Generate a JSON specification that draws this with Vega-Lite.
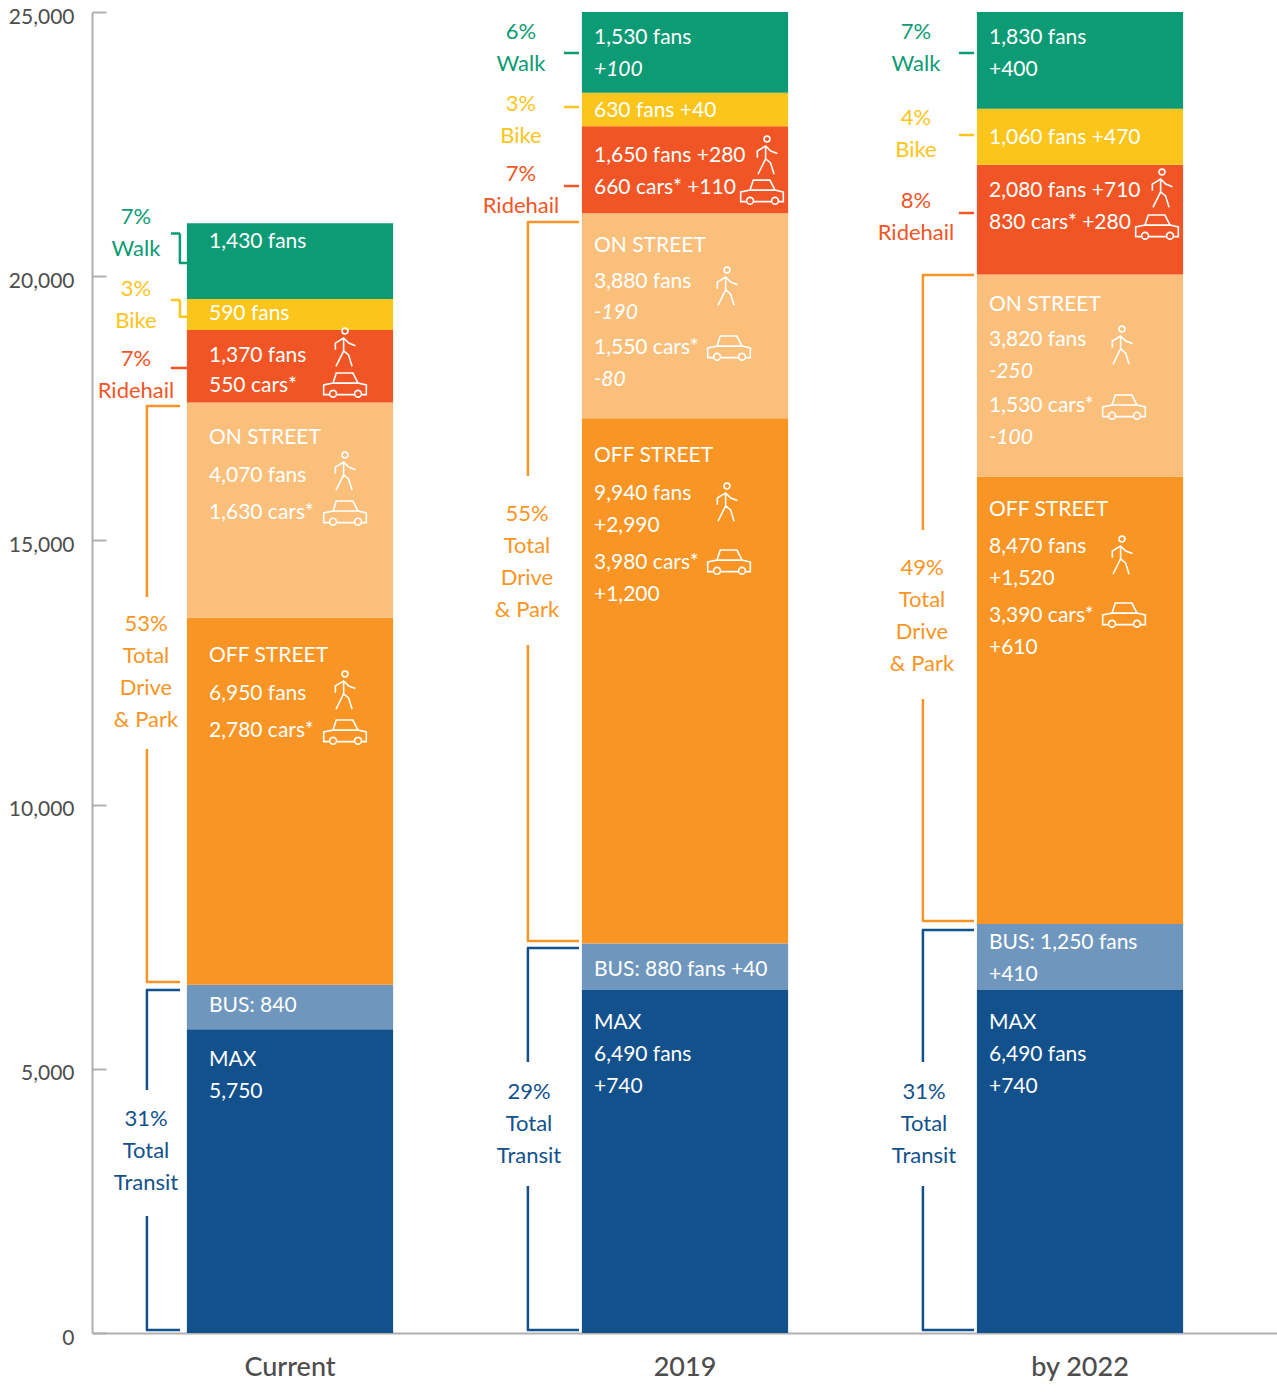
{"$schema":"https://vega.github.io/schema/vega-lite/v6.json","width":1185,"height":1321,"autosize":{"type":"none"},"padding":{"left":92,"top":12,"right":0,"bottom":62},"background":"white",
"config":{"view":{"stroke":null},"font":"Lato"},
"datasets":{
"bars":[
{"period":"Current","mode":"MAX","order":1,"fans":5750},{"period":"Current","mode":"Bus","order":2,"fans":840},{"period":"Current","mode":"Off street","order":3,"fans":6950},{"period":"Current","mode":"On street","order":4,"fans":4070},{"period":"Current","mode":"Ridehail","order":5,"fans":1370},{"period":"Current","mode":"Bike","order":6,"fans":590},{"period":"Current","mode":"Walk","order":7,"fans":1430},
{"period":"2019","mode":"MAX","order":1,"fans":6490},{"period":"2019","mode":"Bus","order":2,"fans":880},{"period":"2019","mode":"Off street","order":3,"fans":9940},{"period":"2019","mode":"On street","order":4,"fans":3880},{"period":"2019","mode":"Ridehail","order":5,"fans":1650},{"period":"2019","mode":"Bike","order":6,"fans":630},{"period":"2019","mode":"Walk","order":7,"fans":1530},
{"period":"by 2022","mode":"MAX","order":1,"fans":6490},{"period":"by 2022","mode":"Bus","order":2,"fans":1250},{"period":"by 2022","mode":"Off street","order":3,"fans":8470},{"period":"by 2022","mode":"On street","order":4,"fans":3820},{"period":"by 2022","mode":"Ridehail","order":5,"fans":2080},{"period":"by 2022","mode":"Bike","order":6,"fans":1060},{"period":"by 2022","mode":"Walk","order":7,"fans":1830}],
"lines":[
{"period":"Current","y":20666,"t":"1,430 fans","kind":"v"},{"period":"Current","y":19304,"t":"590 fans","kind":"v"},{"period":"Current","y":18509,"t":"1,370 fans","kind":"v"},{"period":"Current","y":17941,"t":"550 cars*","kind":"v"},{"period":"Current","y":16957,"t":"ON STREET","kind":"v"},{"period":"Current","y":16238,"t":"4,070 fans","kind":"v"},{"period":"Current","y":15537,"t":"1,630 cars*","kind":"v"},{"period":"Current","y":12831,"t":"OFF STREET","kind":"v"},{"period":"Current","y":12112,"t":"6,950 fans","kind":"v"},{"period":"Current","y":11412,"t":"2,780 cars*","kind":"v"},{"period":"Current","y":6207,"t":"BUS: 840","kind":"v"},{"period":"Current","y":5185,"t":"MAX","kind":"v"},{"period":"Current","y":4580,"t":"5,750","kind":"v"},
{"period":"2019","y":24527,"t":"1,530 fans","kind":"v"},{"period":"2019","y":23921,"t":"+100","kind":"c"},{"period":"2019","y":23145,"t":"630 fans  +40","kind":"v"},{"period":"2019","y":22294,"t":"1,650 fans +280","kind":"v"},{"period":"2019","y":21688,"t":"660 cars* +110","kind":"v"},{"period":"2019","y":20590,"t":"ON STREET","kind":"v"},{"period":"2019","y":19909,"t":"3,880 fans","kind":"v"},{"period":"2019","y":19322,"t":"-190","kind":"c"},{"period":"2019","y":18660,"t":"1,550 cars*","kind":"v"},{"period":"2019","y":18054,"t":"-80","kind":"c"},{"period":"2019","y":16616,"t":"OFF STREET","kind":"v"},{"period":"2019","y":15897,"t":"9,940 fans","kind":"v"},{"period":"2019","y":15291,"t":"+2,990","kind":"v"},{"period":"2019","y":14591,"t":"3,980 cars*","kind":"v"},{"period":"2019","y":13986,"t":"+1,200","kind":"v"},{"period":"2019","y":6889,"t":"BUS: 880 fans +40","kind":"v"},{"period":"2019","y":5886,"t":"MAX","kind":"v"},{"period":"2019","y":5280,"t":"6,490 fans","kind":"v"},{"period":"2019","y":4675,"t":"+740","kind":"v"},
{"period":"by 2022","y":24527,"t":"1,830 fans","kind":"v"},{"period":"by 2022","y":23921,"t":"+400","kind":"v"},{"period":"by 2022","y":22634,"t":"1,060 fans  +470","kind":"v"},{"period":"by 2022","y":21631,"t":"2,080 fans +710","kind":"v"},{"period":"by 2022","y":21026,"t":"830 cars* +280","kind":"v"},{"period":"by 2022","y":19474,"t":"ON STREET","kind":"v"},{"period":"by 2022","y":18811,"t":"3,820 fans","kind":"v"},{"period":"by 2022","y":18206,"t":"-250","kind":"c"},{"period":"by 2022","y":17562,"t":"1,530 cars*","kind":"v"},{"period":"by 2022","y":16957,"t":"-100","kind":"c"},{"period":"by 2022","y":15594,"t":"OFF STREET","kind":"v"},{"period":"by 2022","y":14894,"t":"8,470 fans","kind":"v"},{"period":"by 2022","y":14288,"t":"+1,520","kind":"v"},{"period":"by 2022","y":13588,"t":"3,390 cars*","kind":"v"},{"period":"by 2022","y":12983,"t":"+610","kind":"v"},{"period":"by 2022","y":7400,"t":"BUS: 1,250 fans","kind":"v"},{"period":"by 2022","y":6794,"t":"+410","kind":"v"},{"period":"by 2022","y":5886,"t":"MAX","kind":"v"},{"period":"by 2022","y":5280,"t":"6,490 fans","kind":"v"},{"period":"by 2022","y":4675,"t":"+740","kind":"v"}],
"notes":[
{"period":"Current","mode":"Walk","group":"short","y":21139,"t":"7%"},{"period":"Current","mode":"Walk","group":"short","y":20534,"t":"Walk"},{"period":"Current","mode":"Bike","group":"short","y":19777,"t":"3%"},{"period":"Current","mode":"Bike","group":"short","y":19171,"t":"Bike"},{"period":"Current","mode":"Ridehail","group":"short","y":18452,"t":"7%"},{"period":"Current","mode":"Ridehail","group":"short","y":17846,"t":"Ridehail"},
{"period":"Current","mode":"Off street","group":"drive","y":13437,"t":"53%"},{"period":"Current","mode":"Off street","group":"drive","y":12831,"t":"Total"},{"period":"Current","mode":"Off street","group":"drive","y":12226,"t":"Drive"},{"period":"Current","mode":"Off street","group":"drive","y":11620,"t":"& Park"},
{"period":"Current","mode":"MAX","group":"transit","y":4069,"t":"31%"},{"period":"Current","mode":"MAX","group":"transit","y":3463,"t":"Total"},{"period":"Current","mode":"MAX","group":"transit","y":2858,"t":"Transit"},
{"period":"2019","mode":"Walk","group":"short","y":24640,"t":"6%"},{"period":"2019","mode":"Walk","group":"short","y":24035,"t":"Walk"},{"period":"2019","mode":"Bike","group":"short","y":23278,"t":"3%"},{"period":"2019","mode":"Bike","group":"short","y":22672,"t":"Bike"},{"period":"2019","mode":"Ridehail","group":"short","y":21953,"t":"7%"},{"period":"2019","mode":"Ridehail","group":"short","y":21347,"t":"Ridehail"},
{"period":"2019","mode":"Off street","group":"drive","y":15519,"t":"55%"},{"period":"2019","mode":"Off street","group":"drive","y":14913,"t":"Total"},{"period":"2019","mode":"Off street","group":"drive","y":14307,"t":"Drive"},{"period":"2019","mode":"Off street","group":"drive","y":13702,"t":"& Park"},
{"period":"2019","mode":"MAX","group":"transit","y":4580,"t":"29%"},{"period":"2019","mode":"MAX","group":"transit","y":3974,"t":"Total"},{"period":"2019","mode":"MAX","group":"transit","y":3369,"t":"Transit"},
{"period":"by 2022","mode":"Walk","group":"short","y":24640,"t":"7%"},{"period":"by 2022","mode":"Walk","group":"short","y":24035,"t":"Walk"},{"period":"by 2022","mode":"Bike","group":"short","y":23013,"t":"4%"},{"period":"by 2022","mode":"Bike","group":"short","y":22407,"t":"Bike"},{"period":"by 2022","mode":"Ridehail","group":"short","y":21442,"t":"8%"},{"period":"by 2022","mode":"Ridehail","group":"short","y":20836,"t":"Ridehail"},
{"period":"by 2022","mode":"Off street","group":"drive","y":14497,"t":"49%"},{"period":"by 2022","mode":"Off street","group":"drive","y":13891,"t":"Total"},{"period":"by 2022","mode":"Off street","group":"drive","y":13285,"t":"Drive"},{"period":"by 2022","mode":"Off street","group":"drive","y":12680,"t":"& Park"},
{"period":"by 2022","mode":"MAX","group":"transit","y":4580,"t":"31%"},{"period":"by 2022","mode":"MAX","group":"transit","y":3974,"t":"Total"},{"period":"by 2022","mode":"MAX","group":"transit","y":3369,"t":"Transit"}],
"spans":[
{"period":"Current","mode":"Off street","y":17543,"y2":13929},{"period":"Current","mode":"Off street","y":11052,"y2":6643},{"period":"Current","mode":"MAX","y":6491,"y2":4599},{"period":"Current","mode":"MAX","y":2214,"y2":57},
{"period":"2019","mode":"Off street","y":21026,"y2":16219},{"period":"2019","mode":"Off street","y":13020,"y2":7419},{"period":"2019","mode":"MAX","y":7286,"y2":5129},{"period":"2019","mode":"MAX","y":2782,"y2":57},
{"period":"by 2022","mode":"Off street","y":20023,"y2":15197},{"period":"by 2022","mode":"Off street","y":11998,"y2":7797},{"period":"by 2022","mode":"MAX","y":7627,"y2":5129},{"period":"by 2022","mode":"MAX","y":2782,"y2":57}],
"caps":[
{"period":"Current","mode":"Off street","y":17543},{"period":"Current","mode":"Off street","y":6643},{"period":"Current","mode":"MAX","y":6491},{"period":"Current","mode":"MAX","y":57},
{"period":"2019","mode":"Off street","y":21026},{"period":"2019","mode":"Off street","y":7419},{"period":"2019","mode":"MAX","y":7286},{"period":"2019","mode":"MAX","y":57},
{"period":"by 2022","mode":"Off street","y":20023},{"period":"by 2022","mode":"Off street","y":7797},{"period":"by 2022","mode":"MAX","y":7627},{"period":"by 2022","mode":"MAX","y":57}],
"leaders":[
{"period":"2019","mode":"Walk","y":24224},{"period":"2019","mode":"Bike","y":23202},{"period":"2019","mode":"Ridehail","y":21707},
{"period":"by 2022","mode":"Walk","y":24224},{"period":"by 2022","mode":"Bike","y":22672},{"period":"by 2022","mode":"Ridehail","y":21196}],
"elbows":[
{"mode":"Walk","period":"Current","y":20808,"y2":20250},{"mode":"Bike","period":"Current","y":19550,"y2":19233}],
"people":[
{"period":"Current","place":"a","y":18660},{"period":"Current","place":"a","y":16313},{"period":"Current","place":"a","y":12169},
{"period":"2019","place":"ride","y":22294},{"period":"2019","place":"street","y":19814},{"period":"2019","place":"street","y":15727},
{"period":"by 2022","place":"ride","y":21669},{"period":"by 2022","place":"street","y":18698},{"period":"by 2022","place":"street","y":14724}],
"autos":[
{"period":"Current","place":"a","y":17941},{"period":"Current","place":"a","y":15519},{"period":"Current","place":"a","y":11374},
{"period":"2019","place":"ride","y":21593},{"period":"2019","place":"street","y":18641},{"period":"2019","place":"street","y":14591},
{"period":"by 2022","place":"ride","y":20931},{"period":"by 2022","place":"street","y":17525},{"period":"by 2022","place":"street","y":13588}]
},
"encoding":{
"x":{"field":"period","type":"nominal","sort":["Current","2019","by 2022"],"scale":{"domain":["Current","2019","by 2022"],"range":[0.5,1185.5],"paddingInner":0.478,"paddingOuter":0.239},"axis":{"title":null,"labelAngle":0,"tickSize":0,"domainColor":"#b0b0b0","domainWidth":2,"labelFontSize":27,"labelFontWeight":500,"labelColor":"#4d4d4d","labelPadding":21,"labelFont":"Lato"}},
"color":{"field":"mode","type":"nominal","legend":null,"scale":{"domain":["MAX","Bus","Off street","On street","Ridehail","Bike","Walk"],"range":["#12518C","#6F97BE","#F99524","#FBBF7C","#F25525","#FBC51B","#0C9B74"]}}
},
"layer":[
{"data":{"name":"bars"},"mark":{"type":"bar"},"encoding":{"y":{"field":"fans","type":"quantitative","stack":"zero","scale":{"domain":[0,25000],"nice":false},"axis":{"title":null,"values":[0,5000,10000,15000,20000,25000],"format":",.0f","grid":false,"tickSize":-14,"tickColor":"#b0b0b0","tickWidth":2,"domainColor":"#b0b0b0","domainWidth":2,"labelFontSize":21,"labelColor":"#4d4d4d","labelPadding":32,"labelOffset":5,"labelFont":"Lato"}},"order":{"field":"order","type":"quantitative"}}},
{"data":{"name":"lines"},"transform":[{"filter":"datum.period=='Current'"}],"mark":{"type":"text","align":"left","baseline":"middle","dx":-81,"dy":1,"fontSize":21},"encoding":{"y":{"field":"y","type":"quantitative","stack":null},"text":{"field":"t"},"color":{"value":"white"}}},
{"data":{"name":"lines"},"transform":[{"filter":"datum.period!='Current'&&datum.kind=='v'"}],"mark":{"type":"text","align":"left","baseline":"middle","dx":-91,"dy":1,"fontSize":21},"encoding":{"y":{"field":"y","type":"quantitative","stack":null},"text":{"field":"t"},"color":{"value":"white"}}},
{"data":{"name":"lines"},"transform":[{"filter":"datum.kind=='c'"}],"mark":{"type":"text","align":"left","baseline":"middle","dx":-91,"dy":1,"fontSize":21,"fontStyle":"italic"},"encoding":{"y":{"field":"y","type":"quantitative","stack":null},"text":{"field":"t"},"color":{"value":"white"}}},
{"data":{"name":"notes"},"transform":[{"filter":"datum.period=='Current'&&datum.group=='short'"}],"mark":{"type":"text","baseline":"middle","dx":-154,"dy":1,"fontSize":22},"encoding":{"y":{"field":"y","type":"quantitative","stack":null},"text":{"field":"t"}}},
{"data":{"name":"notes"},"transform":[{"filter":"datum.period!='Current'&&datum.group=='short'"}],"mark":{"type":"text","baseline":"middle","dx":-164,"dy":1,"fontSize":22},"encoding":{"y":{"field":"y","type":"quantitative","stack":null},"text":{"field":"t"}}},
{"data":{"name":"notes"},"transform":[{"filter":"datum.period=='Current'&&datum.group!='short'"}],"mark":{"type":"text","baseline":"middle","dx":-144,"dy":1,"fontSize":22},"encoding":{"y":{"field":"y","type":"quantitative","stack":null},"text":{"field":"t"}}},
{"data":{"name":"notes"},"transform":[{"filter":"datum.period!='Current'&&datum.group=='drive'"}],"mark":{"type":"text","baseline":"middle","dx":-158,"dy":1,"fontSize":22},"encoding":{"y":{"field":"y","type":"quantitative","stack":null},"text":{"field":"t"}}},
{"data":{"name":"notes"},"transform":[{"filter":"datum.period!='Current'&&datum.group=='transit'"}],"mark":{"type":"text","baseline":"middle","dx":-156,"dy":1,"fontSize":22},"encoding":{"y":{"field":"y","type":"quantitative","stack":null},"text":{"field":"t"}}},
{"data":{"name":"spans"},"transform":[{"filter":"datum.period=='Current'"}],"mark":{"type":"rule","strokeWidth":2.5,"xOffset":-40},"encoding":{"x":{"field":"period","type":"nominal","bandPosition":0},"y":{"field":"y","type":"quantitative"},"y2":{"field":"y2"}}},
{"data":{"name":"spans"},"transform":[{"filter":"datum.period!='Current'"}],"mark":{"type":"rule","strokeWidth":2.5,"xOffset":-54},"encoding":{"x":{"field":"period","type":"nominal","bandPosition":0},"y":{"field":"y","type":"quantitative"},"y2":{"field":"y2"}}},
{"data":{"name":"caps"},"transform":[{"filter":"datum.period=='Current'"}],"mark":{"type":"rule","strokeWidth":2.5,"xOffset":-41,"x2Offset":-110},"encoding":{"x":{"field":"period","type":"nominal","bandPosition":0},"x2":{"field":"period"},"y":{"field":"y","type":"quantitative"}}},
{"data":{"name":"caps"},"transform":[{"filter":"datum.period!='Current'"}],"mark":{"type":"rule","strokeWidth":2.5,"xOffset":-55,"x2Offset":-106},"encoding":{"x":{"field":"period","type":"nominal","bandPosition":0},"x2":{"field":"period"},"y":{"field":"y","type":"quantitative"}}},
{"data":{"name":"leaders"},"mark":{"type":"rule","strokeWidth":2.5,"xOffset":-18,"x2Offset":-106},"encoding":{"x":{"field":"period","type":"nominal","bandPosition":0},"x2":{"field":"period"},"y":{"field":"y","type":"quantitative"}}},
{"data":{"values":[{"period":"Current","mode":"Ridehail","y":18263}]},"mark":{"type":"rule","strokeWidth":2.5,"xOffset":-16,"x2Offset":-103},"encoding":{"x":{"field":"period","type":"nominal","bandPosition":0},"x2":{"field":"period"},"y":{"field":"y","type":"quantitative"}}},
{"data":{"name":"elbows"},"mark":{"type":"rule","strokeWidth":2.5,"xOffset":-16,"x2Offset":-110},"encoding":{"x":{"field":"period","type":"nominal","bandPosition":0},"x2":{"field":"period"},"y":{"field":"y","type":"quantitative"}}},
{"data":{"name":"elbows"},"mark":{"type":"rule","strokeWidth":2.5,"xOffset":-7},"encoding":{"x":{"field":"period","type":"nominal","bandPosition":0},"y":{"field":"y","type":"quantitative"},"y2":{"field":"y2"}}},
{"data":{"name":"elbows"},"mark":{"type":"rule","strokeWidth":2.5,"xOffset":-8,"x2Offset":-103},"encoding":{"x":{"field":"period","type":"nominal","bandPosition":0},"x2":{"field":"period"},"y":{"field":"y2","type":"quantitative"}}},
{"data":{"name":"people"},"transform":[{"filter":"datum.place=='a'"}],"mark":{"type":"point","shape":"M.15,-.81A.15,.15 0 1 1 -.15,-.81A.15,.15 0 1 1 .15,-.81Z M-.49,.14L-.49,-.2L-.07,-.46L.19,-.2L.53,-.07 M-.07,-.46L-.07,.2L-.46,.98 M-.07,.2L.18,.4L.36,.98","size":1547,"filled":false,"stroke":"white","strokeWidth":1.6,"opacity":1,"xOffset":55},"encoding":{"y":{"field":"y","type":"quantitative","stack":null},"color":{"value":"white"}}},
{"data":{"name":"people"},"transform":[{"filter":"datum.place=='ride'"}],"mark":{"type":"point","shape":"M.15,-.81A.15,.15 0 1 1 -.15,-.81A.15,.15 0 1 1 .15,-.81Z M-.49,.14L-.49,-.2L-.07,-.46L.19,-.2L.53,-.07 M-.07,-.46L-.07,.2L-.46,.98 M-.07,.2L.18,.4L.36,.98","size":1547,"filled":false,"stroke":"white","strokeWidth":1.6,"opacity":1,"xOffset":82},"encoding":{"y":{"field":"y","type":"quantitative","stack":null},"color":{"value":"white"}}},
{"data":{"name":"people"},"transform":[{"filter":"datum.place=='street'"}],"mark":{"type":"point","shape":"M.15,-.81A.15,.15 0 1 1 -.15,-.81A.15,.15 0 1 1 .15,-.81Z M-.49,.14L-.49,-.2L-.07,-.46L.19,-.2L.53,-.07 M-.07,-.46L-.07,.2L-.46,.98 M-.07,.2L.18,.4L.36,.98","size":1547,"filled":false,"stroke":"white","strokeWidth":1.6,"opacity":1,"xOffset":42},"encoding":{"y":{"field":"y","type":"quantitative","stack":null},"color":{"value":"white"}}},
{"data":{"name":"autos"},"transform":[{"filter":"datum.place=='a'"}],"mark":{"type":"point","shape":"M-.72,.45L-1,.45L-1,0L-.56,-.09L-.41,-.56L.37,-.56L.61,-.09L1,0L1,.45L.77,.45 M.45,.45L-.40,.45 M-.56,-.09L.61,-.09 M-.40,.41A.16,.16 0 1 1 -.72,.41A.16,.16 0 1 1 -.40,.41Z M.77,.41A.16,.16 0 1 1 .45,.41A.16,.16 0 1 1 .77,.41Z","size":1820,"filled":false,"stroke":"white","strokeWidth":1.6,"opacity":1,"xOffset":55},"encoding":{"y":{"field":"y","type":"quantitative","stack":null},"color":{"value":"white"}}},
{"data":{"name":"autos"},"transform":[{"filter":"datum.place=='ride'"}],"mark":{"type":"point","shape":"M-.72,.45L-1,.45L-1,0L-.56,-.09L-.41,-.56L.37,-.56L.61,-.09L1,0L1,.45L.77,.45 M.45,.45L-.40,.45 M-.56,-.09L.61,-.09 M-.40,.41A.16,.16 0 1 1 -.72,.41A.16,.16 0 1 1 -.40,.41Z M.77,.41A.16,.16 0 1 1 .45,.41A.16,.16 0 1 1 .77,.41Z","size":1820,"filled":false,"stroke":"white","strokeWidth":1.6,"opacity":1,"xOffset":77},"encoding":{"y":{"field":"y","type":"quantitative","stack":null},"color":{"value":"white"}}},
{"data":{"name":"autos"},"transform":[{"filter":"datum.place=='street'"}],"mark":{"type":"point","shape":"M-.72,.45L-1,.45L-1,0L-.56,-.09L-.41,-.56L.37,-.56L.61,-.09L1,0L1,.45L.77,.45 M.45,.45L-.40,.45 M-.56,-.09L.61,-.09 M-.40,.41A.16,.16 0 1 1 -.72,.41A.16,.16 0 1 1 -.40,.41Z M.77,.41A.16,.16 0 1 1 .45,.41A.16,.16 0 1 1 .77,.41Z","size":1820,"filled":false,"stroke":"white","strokeWidth":1.6,"opacity":1,"xOffset":44},"encoding":{"y":{"field":"y","type":"quantitative","stack":null},"color":{"value":"white"}}}
]}
